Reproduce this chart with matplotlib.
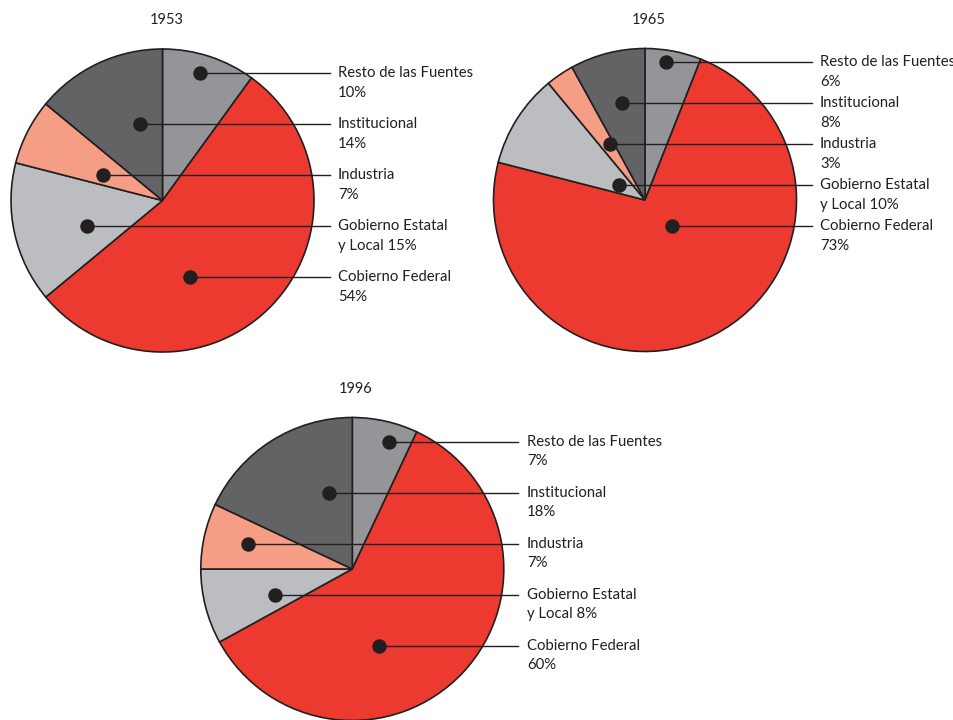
import matplotlib

matplotlib.use("Agg")
import matplotlib.pyplot as plt

# --- datos (orden de las porciones, en sentido horario desde arriba)
FUENTES = ["Resto de las Fuentes", "Cobierno Federal", "Gobierno Estatal y Local",
           "Industria", "Institucional"]
ANIOS = ["1953", "1965", "1996"]
V1953 = [10, 54, 15, 7, 14]
V1965 = [6, 73, 10, 3, 8]
V1996 = [7, 60, 8, 7, 18]
COLORES = ["#939598", "#EC3A30", "#BCBDC0", "#F59D85", "#636366"]

# orden de las etiquetas (de arriba a abajo) -> indice en FUENTES
ORDEN_ETIQ = [0, 4, 3, 2, 1]

W, H = 954, 720
R = 151.5
# layout en pixeles (y hacia abajo): centro, x fin de linea, x texto,
# y primera fila, paso entre filas, x de cada punto, posicion del titulo
LAYOUT = {
    "1953": dict(c=(162.5, 200.5), xl=330, xt=338, y0=73.3, dy=51.0,
                 dots=[200, 140, 103, 87, 190], tx=167, ty=20),
    "1965": dict(c=(645, 200), xl=812, xt=820, y0=62.3, dy=41.0,
                 dots=[666, 622, 610, 619, 672], tx=649, ty=20),
    "1996": dict(c=(352.3, 569), xl=518, xt=527, y0=441.7, dy=51.0,
                 dots=[389, 329, 248, 275, 379], tx=356, ty=389),
}
FONT = "Lato"
INK = "#231F20"


def etiqueta(nombre, v):
    if nombre == "Gobierno Estatal y Local":
        return f"Gobierno Estatal\ny Local {v}%"
    return f"{nombre}\n{v}%"


fig = plt.figure(figsize=(W / 100, H / 100), dpi=100)
ax = fig.add_axes([0, 0, 1, 1])

for anio, vals in zip(ANIOS, [V1953, V1965, V1996]):
    lay = LAYOUT[anio]
    cx, cy = lay["c"]
    ax.pie(vals, colors=COLORES, startangle=90, counterclock=False,
           center=(cx, H - cy), radius=R,
           wedgeprops=dict(edgecolor=INK, linewidth=1.2))
    ax.text(lay["tx"], H - lay["ty"], anio, ha="center", va="center",
            fontsize=10.5, family=FONT, color=INK)
    for k, idx in enumerate(ORDEN_ETIQ):
        y = H - (lay["y0"] + k * lay["dy"])
        xd = lay["dots"][k]
        ax.plot([xd, lay["xl"]], [y, y], color=INK, lw=1.0, zorder=5)
        ax.plot(xd, y, "o", ms=9.4, color=INK, zorder=6)
        ax.text(lay["xt"], y + 7, etiqueta(FUENTES[idx], vals[idx]),
                ha="left", va="top", fontsize=10.7, family=FONT,
                color=INK, linespacing=1.5)

ax.set_xlim(0, W)
ax.set_ylim(0, H)
ax.set_aspect("auto")
ax.axis("off")

fig.savefig("out.png", dpi=100)
